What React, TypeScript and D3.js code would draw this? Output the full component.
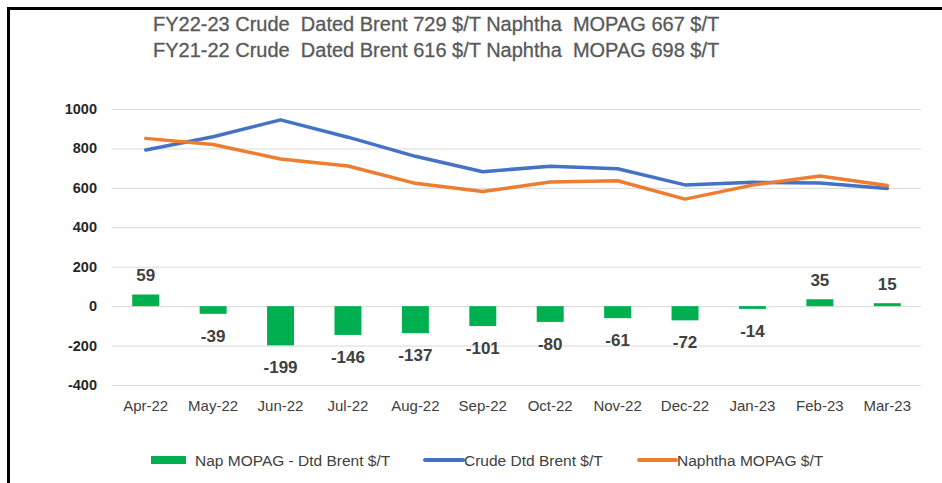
import { useEffect, useRef } from "react"
import * as d3 from "d3"

const months = ["Apr-22", "May-22", "Jun-22", "Jul-22", "Aug-22", "Sep-22", "Oct-22", "Nov-22", "Dec-22", "Jan-23", "Feb-23", "Mar-23"]
const spread = [59, -39, -199, -146, -137, -101, -80, -61, -72, -14, 35, 15]
const crude = [792, 859, 945, 857, 760, 682, 710, 697, 615, 628, 625, 597]
const naphtha = [851, 820, 746, 711, 623, 581, 630, 636, 543, 614, 660, 612]
const yTicks = [-400, -200, 0, 200, 400, 600, 800, 1000]
const titleLines = [
  "FY22-23 Crude  Dated Brent 729 $/T Naphtha  MOPAG 667 $/T",
  "FY21-22 Crude  Dated Brent 616 $/T Naphtha  MOPAG 698 $/T",
]
const legendNames = ["Nap MOPAG - Dtd Brent $/T", "Crude Dtd Brent $/T", "Naphtha MOPAG $/T"]

const W = 942
const H = 483
const calibri = "'Liberation Sans Narrow', 'Liberation Sans', sans-serif"

export default function App() {
  const svgRef = useRef<SVGSVGElement>(null)

  useEffect(() => {
    if (!svgRef.current) return
    const svg = d3.select(svgRef.current)
    svg.selectAll("*").remove()

    svg.append("rect").attr("width", W).attr("height", H).attr("fill", "#fff")

    // frame
    svg
      .append("path")
      .attr("d", `M8.5,${H} V8.5 H${W}`)
      .attr("fill", "none")
      .attr("stroke", "#000")
      .attr("stroke-width", 3)

    const left = 112
    const right = 921
    const x = d3.scaleBand().domain(months).range([left, right])
    const y = d3.scaleLinear().domain([-400, 1000]).range([385, 109])

    // grid
    svg
      .append("g")
      .selectAll("line")
      .data(yTicks)
      .enter()
      .append("line")
      .attr("x1", left)
      .attr("x2", right)
      .attr("y1", (d) => y(d) + 0.5)
      .attr("y2", (d) => y(d) + 0.5)
      .attr("stroke", "#d9d9d9")
      .attr("stroke-width", 1)

    // y labels
    svg
      .append("g")
      .selectAll("text")
      .data(yTicks)
      .enter()
      .append("text")
      .attr("x", 97)
      .attr("y", (d) => y(d) + 5)
      .attr("text-anchor", "end")
      .attr("font-family", "'Liberation Sans', Arial, sans-serif")
      .attr("font-weight", "bold")
      .attr("font-size", "14.5px")
      .attr("fill", "#262626")
      .text((d) => d)

    // x labels
    svg
      .append("g")
      .selectAll("text")
      .data(months)
      .enter()
      .append("text")
      .attr("x", (d) => (x(d) || 0) + x.bandwidth() / 2)
      .attr("y", 411)
      .attr("text-anchor", "middle")
      .attr("font-family", calibri)
      .attr("font-size", "15px")
      .attr("fill", "#404040")
      .text((d) => d)

    // bars
    const bw = x.bandwidth() * 0.4
    svg
      .append("g")
      .selectAll("rect")
      .data(spread)
      .enter()
      .append("rect")
      .attr("x", (_, i) => (x(months[i]) || 0) + (x.bandwidth() - bw) / 2)
      .attr("y", (d) => y(Math.max(0, d)))
      .attr("width", bw)
      .attr("height", (d) => Math.abs(y(d) - y(0)))
      .attr("fill", "#00b050")

    // bar labels
    svg
      .append("g")
      .selectAll("text")
      .data(spread)
      .enter()
      .append("text")
      .attr("x", (_, i) => (x(months[i]) || 0) + x.bandwidth() / 2)
      .attr("y", (d) => (d >= 0 ? y(d) - 13.5 : y(d) + 28))
      .attr("text-anchor", "middle")
      .attr("font-family", calibri)
      .attr("font-weight", "bold")
      .attr("font-size", "17px")
      .attr("fill", "#404040")
      .text((d) => d)

    // lines
    const line = d3
      .line<number>()
      .x((_, i) => (x(months[i]) || 0) + x.bandwidth() / 2)
      .y((d) => y(d))
    const series = [
      { values: crude, color: "#4472c4" },
      { values: naphtha, color: "#ed7d31" },
    ]
    series.forEach((s) => {
      svg
        .append("path")
        .datum(s.values)
        .attr("d", line)
        .attr("fill", "none")
        .attr("stroke", s.color)
        .attr("stroke-width", 3.5)
        .attr("stroke-linejoin", "round")
        .attr("stroke-linecap", "round")
    })

    // title
    svg
      .append("g")
      .selectAll("text")
      .data(titleLines)
      .enter()
      .append("text")
      .attr("x", 153)
      .attr("y", (_, i) => 31 + i * 26)
      .attr("font-family", calibri)
      .attr("font-size", "20px")
      .attr("fill", "#595959")
      .attr("stroke", "#595959")
      .attr("stroke-width", 0.3)
      .style("white-space", "pre")
      .text((d) => d)

    // legend
    const lg = svg.append("g").attr("font-family", calibri).attr("font-size", "15.5px").attr("fill", "#404040")
    lg.append("rect").attr("x", 151).attr("y", 456).attr("width", 35).attr("height", 8).attr("fill", "#00b050")
    lg.append("text").attr("x", 195).attr("y", 466).text(legendNames[0])
    lg.append("line").attr("x1", 425).attr("x2", 463).attr("y1", 460).attr("y2", 460)
      .attr("stroke", "#4472c4").attr("stroke-width", 4).attr("stroke-linecap", "round")
    lg.append("text").attr("x", 464).attr("y", 466).text(legendNames[1])
    lg.append("line").attr("x1", 639).attr("x2", 676).attr("y1", 460).attr("y2", 460)
      .attr("stroke", "#ed7d31").attr("stroke-width", 4).attr("stroke-linecap", "round")
    lg.append("text").attr("x", 677).attr("y", 466).text(legendNames[2])
  }, [])

  return (
    <div style={{ position: "fixed", left: 0, top: 0, width: W, height: H }}>
      <svg ref={svgRef} width={W} height={H} style={{ display: "block" }} />
    </div>
  )
}
